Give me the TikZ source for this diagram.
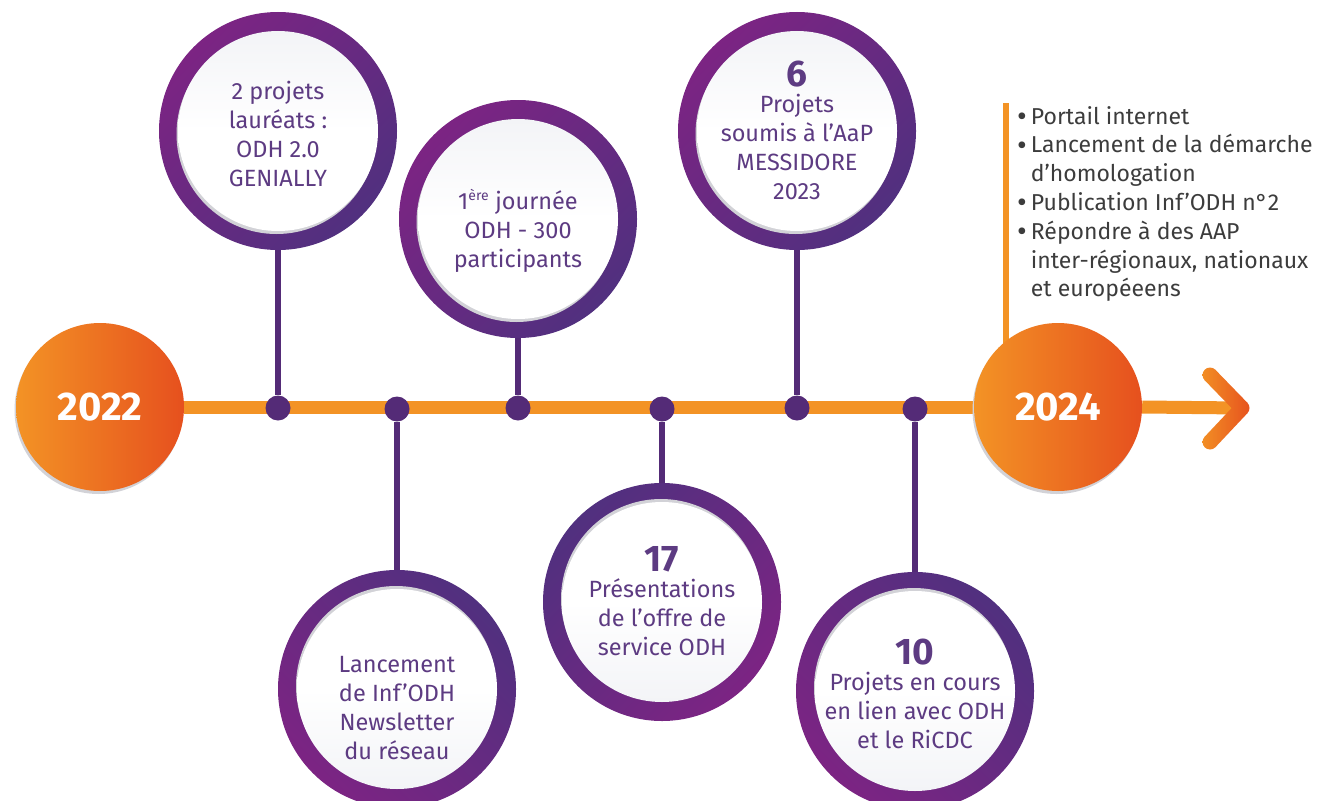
\documentclass[tikz,border=0pt]{standalone}
\usepackage{fontspec}
\setmainfont{Fira Sans}
\usetikzlibrary{calc}
\definecolor{tlorange}{HTML}{F39325}
\definecolor{tlred}{HTML}{E6501E}
\definecolor{ringmag}{HTML}{7C2483}
\definecolor{ringblue}{HTML}{51307F}
\definecolor{dotpurple}{HTML}{542B77}
\definecolor{txtpurple}{HTML}{5D3B82}
\definecolor{txtgrey}{HTML}{3C3C3C}
\definecolor{shadowgrey}{HTML}{D2D2D7}
\definecolor{innergrey}{HTML}{F3F4F7}
\newcommand{\bignumtxt}[1]{{\fontsize{37}{37}\selectfont\bfseries #1}}
\newcommand{\bul}{\smash{\raisebox{-0.1em}{\scalebox{1.3}{\textbullet}}}\hspace{4pt}}
\newcommand{\nobul}{\hphantom{\bul}}
\pgfdeclarelayer{bg}
\pgfsetlayers{bg,main}
\begin{document}
\begin{tikzpicture}[x=1pt,y=-1pt,
  ring/.style={circle, inner sep=0pt, minimum size=238pt},
  ringA/.style={ring, top color=ringmag, bottom color=ringblue, shading angle=45},
  ringB/.style={ring, top color=ringblue, bottom color=ringmag, shading angle=-45},
  ringC/.style={ring, top color=ringblue, bottom color=ringmag, shading angle=45},
  innerT/.style={circle, inner sep=0pt, minimum size=200pt, top color=innergrey, bottom color=white, middle color=white,
    preaction={fill=shadowgrey, transform canvas={shift={(-1.5pt,-3pt)}}}},
  innerB/.style={circle, inner sep=0pt, minimum size=200pt, top color=white, bottom color=innergrey, middle color=white,
    preaction={fill=shadowgrey, transform canvas={shift={(-1pt,3pt)}}}},
  txt/.style={align=center, text=txtpurple, font=\fontsize{23.5}{29}\selectfont, inner sep=0pt},
  yearc/.style={circle, inner sep=0pt, minimum size=168pt, left color=tlorange, right color=tlred,
    text=white, font=\fontsize{40}{40}\selectfont\bfseries,
    preaction={fill=shadowgrey, transform canvas={shift={(-1.5pt,-3pt)}}}},
  dotc/.style={circle, fill=dotpurple, inner sep=0pt, minimum size=25pt},
  stem/.style={draw=dotpurple, line width=6pt},
  tline/.style={draw=tlorange, line width=13pt},
  listtxt/.style={align=left, text=txtgrey, font=\fontsize{23}{28.8}\selectfont, inner sep=0pt}
]
\useasboundingbox (0,0) rectangle (1319,800);
\clip (0,0) rectangle (1319,800);

% year circles
\node[yearc] (y22) at (100,407) {2022};
\node[yearc] (y24) at (1058,407) {2024};

% dots on the timeline
\node[dotc] (d1) at (278,408) {};
\node[dotc] (d2) at (397,409) {};
\node[dotc] (d3) at (518,408) {};
\node[dotc] (d4) at (662,409) {};
\node[dotc] (d5) at (797,408) {};
\node[dotc] (d6) at (915,409) {};

% top circles
\node[ringA] (r1) at (278,131) {};
\node[innerT] (i1) at (r1) {};
\node[txt] (t1) at (278,134) {2 projets\\lauréats :\\ODH 2.0\\GENIALLY};

\node[ringA] (r3) at (518,219) {};
\node[innerT] (i3) at (r3) {};
\node[txt] (t3) at (518,231) {1\textsuperscript{\fontsize{14}{14}\selectfont ère} journée\\ODH - 300\\participants};

\node[ringA] (r5) at (797,131) {};
\node[innerT] (i5) at (r5) {};
\node[txt] (t5) at (797,130) {\bignumtxt{6}\\[-3pt]Projets\\soumis à l’AaP\\MESSIDORE\\2023};

% bottom circles
\node[ringB] (r2) at (397,689) {};
\node[innerB] (i2) at (r2) {};
\node[txt] (t2) at (397,708) {Lancement\\de Inf’ODH\\Newsletter\\du réseau};

\node[ringC] (r4) at (662,602) {};
\node[innerB] (i4) at (r4) {};
\node[txt] (t4) at (662,601) {\bignumtxt{17}\\[-3pt]Présentations\\de l’offre de\\service ODH};

\node[ringB] (r6) at (915,691) {};
\node[innerB] (i6) at (r6) {};
\node[txt] (t6) at (915,694) {\bignumtxt{10}\\[-3pt]Projets en cours\\en lien avec ODH\\et le RiCDC};

% bullet list
\node[listtxt, anchor=north west] (list) at (1017,106) {%
\bul Portail internet\\
\bul Lancement de la démarche\\
\nobul d’homologation\\
\bul Publication Inf’ODH n°2\\
\bul Répondre à des AAP\\
\nobul inter-régionaux, nationaux\\
\nobul et européeens};

\coordinate (ltop) at (1006,103);
\coordinate (lbot) at (1006,370);
\coordinate (ca) at (1210,375);
\coordinate (ct) at (1242,408);
\coordinate (cb) at (1210,442);

\begin{pgfonlayer}{bg}
  \draw[tline] (y22.east) -- (y24.west);
  \draw[tline] (y24.east) -- (ct);
  \draw[draw=tlorange, line width=5.5pt] (ltop) -- (lbot);
  \draw[stem] (d1) -- (r1);
  \draw[stem] (d3) -- (r3);
  \draw[stem] (d5) -- (r5);
  \draw[stem] (d2) -- (r2);
  \draw[stem] (d4) -- (r4);
  \draw[stem] (d6) -- (r6);
\end{pgfonlayer}

% chevron arrow head with gradient
\foreach \piece in {1,2,3,4,5}{
  \begin{scope}
    \ifcase\piece\or
      \clip ($(ca)!7.5pt!90:(ct)$) -- ($(ca)!7.5pt!-90:(ct)$) -- ($(ct)!7.5pt!90:(ca)$) -- ($(ct)!7.5pt!-90:(ca)$) -- cycle;
    \or
      \clip ($(cb)!7.5pt!90:(ct)$) -- ($(cb)!7.5pt!-90:(ct)$) -- ($(ct)!7.5pt!90:(cb)$) -- ($(ct)!7.5pt!-90:(cb)$) -- cycle;
    \or
      \clip (ca) circle[radius=7.5pt];
    \or
      \clip (cb) circle[radius=7.5pt];
    \or
      \clip (ct) circle[radius=7.5pt];
    \fi
    \shade[left color=tlorange, right color=tlred] (1198,362) rectangle (1252,455);
  \end{scope}
}
\end{tikzpicture}
\end{document}
